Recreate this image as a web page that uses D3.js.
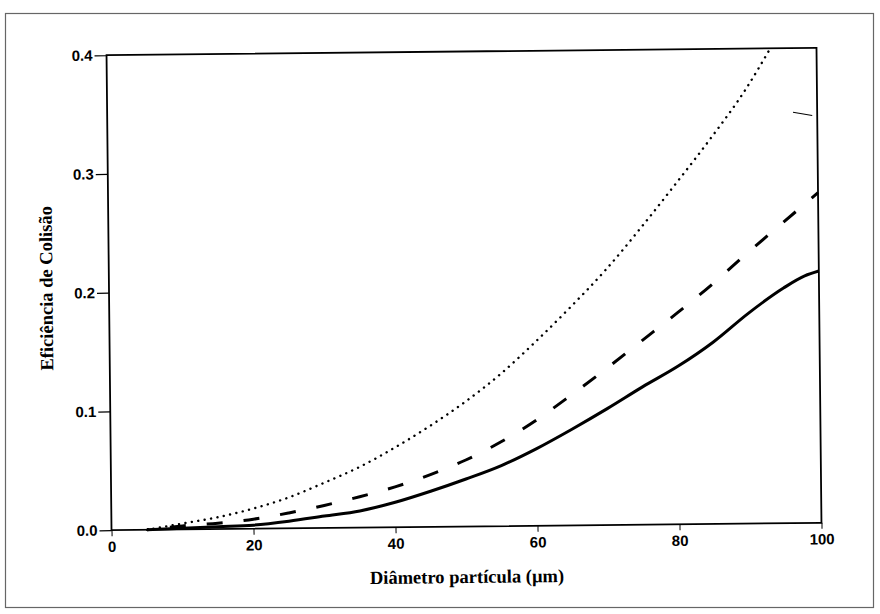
<!DOCTYPE html>
<html><head><meta charset="utf-8">
<script src="https://cdn.jsdelivr.net/npm/d3@7"></script>
<style>
html,body{margin:0;padding:0;background:#fff;}
svg{display:block;}
</style></head>
<body>
<script>
// ---- data ----
const xTicks = [0, 20, 40, 60, 80, 100];
const yTicks = [0.0, 0.1, 0.2, 0.3, 0.4];
const xTitle = "Diâmetro partícula (µm)";
const yTitle = "Eficiência de Colisão";

const solidX = [5, 10, 15, 20, 25, 30, 35, 40, 45, 50, 55, 60, 65, 70, 75, 80, 85, 90, 95, 98, 100];
const solidY = [0, 0.001, 0.002, 0.003, 0.006, 0.010, 0.014, 0.021, 0.030, 0.040, 0.051, 0.065, 0.081, 0.098, 0.116, 0.133, 0.153, 0.177, 0.198, 0.208, 0.212];

const dashX = [5, 10, 15, 20, 25, 30, 35, 40, 45, 50, 55, 60, 65, 70, 75, 80, 85, 90, 95, 100];
const dashY = [0, 0.003, 0.005, 0.008, 0.013, 0.019, 0.026, 0.034, 0.044, 0.056, 0.071, 0.089, 0.110, 0.132, 0.155, 0.178, 0.202, 0.228, 0.253, 0.278];

const dotX = [5, 10, 15, 20, 25, 30, 35, 40, 45, 50, 55, 60, 65, 70, 75, 80, 85, 90, 93.5];
const dotY = [0, 0.005, 0.010, 0.017, 0.026, 0.038, 0.051, 0.067, 0.085, 0.105, 0.128, 0.155, 0.184, 0.215, 0.250, 0.287, 0.325, 0.366, 0.400];

const stray = [[96.6, 0.346], [99.3, 0.343]];

// ---- layout ----
const W = 880, H = 614;
const plot = {l: 109, r: 819, t: 51.5, b: 526.5};

const svg = d3.select("body").append("svg").attr("width", W).attr("height", H);
svg.append("rect").attr("width", W).attr("height", H).attr("fill", "#fff");
svg.append("rect").attr("x", 5.5).attr("y", 13.5).attr("width", 868).attr("height", 594)
  .attr("fill", "none").attr("stroke", "#666").attr("stroke-width", 1.2);

const g = svg.append("g").attr("transform", "rotate(-0.6, 464, 289)");

const x = d3.scaleLinear().domain([0, 100]).range([plot.l, plot.r]);
const y = d3.scaleLinear().domain([0, 0.4]).range([plot.b, plot.t]);

// frame
g.append("rect").attr("x", plot.l).attr("y", plot.t)
  .attr("width", plot.r - plot.l).attr("height", plot.b - plot.t)
  .attr("fill", "none").attr("stroke", "#000").attr("stroke-width", 1.8);

const yAxis = d3.axisLeft(y).tickValues(yTicks).tickFormat(d3.format(".1f")).tickSize(12).tickPadding(2);
const ya = g.append("g").attr("transform", `translate(${plot.l},0)`).call(yAxis);
ya.select(".domain").remove();
ya.selectAll("line").attr("stroke", "#000").attr("stroke-width", 1.2);
ya.selectAll("text").attr("font-family", "'Liberation Sans', Arial, sans-serif")
  .attr("font-weight", "bold").attr("font-size", 15).attr("fill", "#000");

const xAxis = d3.axisBottom(x).tickValues(xTicks).tickFormat(d3.format("d")).tickSize(6).tickPadding(5);
const xa = g.append("g").attr("transform", `translate(0,${plot.b})`).call(xAxis);
xa.select(".domain").remove();
xa.selectAll("line").attr("stroke", "#000").attr("stroke-width", 1);
xa.selectAll("text").attr("font-family", "'Liberation Sans', Arial, sans-serif")
  .attr("font-weight", "bold").attr("font-size", 15).attr("fill", "#000");

const line = d3.line().x(d => x(d[0])).y(d => y(d[1])).curve(d3.curveMonotoneX);
const zip = (a, b) => a.map((v, i) => [v, b[i]]);

g.append("path").datum(zip(dotX, dotY)).attr("d", line)
  .attr("fill", "none").attr("stroke", "#000").attr("stroke-width", 2.4)
  .attr("stroke-linecap", "round").attr("stroke-dasharray", "0.1,6.4");
g.append("path").datum(zip(dashX, dashY)).attr("d", line)
  .attr("fill", "none").attr("stroke", "#000").attr("stroke-width", 3)
  .attr("stroke-dasharray", "16,21").attr("stroke-dashoffset", -60);
g.append("path").datum(zip(solidX, solidY)).attr("d", line)
  .attr("fill", "none").attr("stroke", "#000").attr("stroke-width", 3);
g.append("path").datum(stray).attr("d", d3.line().x(d => x(d[0])).y(d => y(d[1])))
  .attr("fill", "none").attr("stroke", "#000").attr("stroke-width", 1);

// titles
g.append("text").attr("x", (plot.l + plot.r) / 2).attr("y", 583)
  .attr("text-anchor", "middle").attr("font-family", "'Liberation Serif', 'Times New Roman', serif")
  .attr("font-weight", "bold").attr("font-size", 18.5).text(xTitle);
g.append("text").attr("transform", `translate(46,${(plot.t + plot.b) / 2 - 5}) rotate(-90)`)
  .attr("text-anchor", "middle").attr("dy", "0.35em")
  .attr("font-family", "'Liberation Serif', 'Times New Roman', serif")
  .attr("font-weight", "bold").attr("font-size", 18.5).text(yTitle);
</script>
</body></html>
